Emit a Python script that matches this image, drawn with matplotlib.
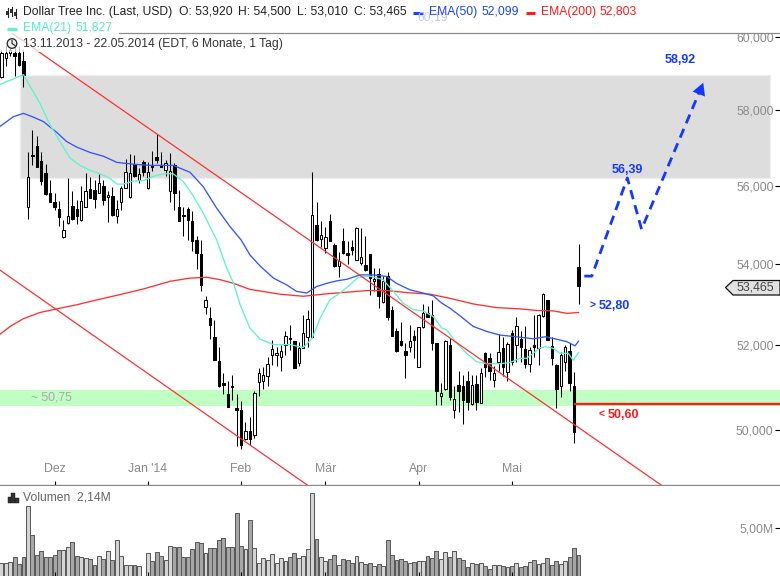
import matplotlib
matplotlib.use("Agg")
import matplotlib.pyplot as plt
import matplotlib.ticker as mticker
from matplotlib.patches import Circle, Polygon, Rectangle

plt.rcParams["font.family"] = ["Liberation Sans", "DejaVu Sans"]

# ── Kursdaten ────────────────────────────────────────────────────────────────
opens = [
    58.90, 59.42, 59.55, 59.55, 59.55, 59.34, 55.45, 56.81, 57.03, 56.65,
    56.34, 55.82, 55.59, 55.40, 54.67, 55.04, 55.48, 55.40, 55.11, 55.46,
    55.91, 55.89, 55.82, 55.99, 55.70, 55.72, 55.21, 55.59, 55.95, 55.70,
    56.57, 56.15, 56.61, 55.93, 56.53, 56.74, 56.55, 56.41, 55.87, 56.53,
    55.45, 55.25, 55.40, 55.10, 54.61, 54.26, 52.93, 52.66, 52.20, 51.63,
    51.09, 50.83, 51.04, 50.51, 50.47, 49.79, 49.97, 49.88, 51.12, 51.16,
    51.26, 51.76, 51.76, 51.73, 52.00, 52.17, 52.10, 51.57, 51.95, 52.21,
    52.20, 54.99, 54.64, 54.40, 55.08, 54.49, 53.96, 54.57, 54.27, 54.44,
    54.09, 54.03, 53.98, 54.26, 53.58, 53.75, 53.07, 53.69, 52.87, 52.35,
    52.11, 51.87, 51.97, 52.23, 51.48, 52.44, 52.80, 52.73, 52.05, 50.79,
    50.95, 52.01, 50.46, 51.06, 51.04, 51.16, 50.61, 51.08, 50.63, 51.81,
    51.69, 51.17, 51.59, 51.93, 51.36, 52.30, 52.01, 52.15, 51.91, 51.55,
    52.01, 51.93, 52.72, 53.11, 51.99, 51.54, 51.02, 51.60, 51.87, 51.02,
    53.92,
]
highs = [
    59.64, 59.78, 59.78, 59.87, 59.74, 59.64, 56.87, 57.47, 57.31, 56.87,
    56.57, 56.15, 55.82, 55.61, 55.12, 56.21, 55.85, 55.63, 56.00, 56.34,
    56.22, 56.15, 56.30, 56.15, 55.85, 55.97, 55.63, 55.99, 56.70, 56.84,
    56.79, 56.46, 56.68, 56.61, 56.90, 57.37, 56.87, 56.68, 56.85, 56.59,
    55.89, 55.46, 55.45, 55.34, 54.71, 54.61, 53.21, 52.93, 52.62, 51.97,
    51.34, 51.16, 51.30, 50.83, 50.67, 50.18, 50.30, 50.91, 51.46, 51.48,
    51.73, 52.13, 51.97, 52.01, 52.35, 52.50, 52.10, 52.09, 52.74, 52.87,
    56.35, 55.58, 55.10, 54.94, 55.28, 54.53, 54.31, 54.91, 54.57, 54.61,
    54.94, 54.91, 54.71, 54.26, 53.89, 53.89, 53.69, 53.81, 52.97, 52.42,
    52.57, 52.05, 52.50, 52.38, 52.44, 53.01, 52.95, 53.11, 52.05, 51.10,
    52.13, 52.19, 51.04, 51.38, 51.30, 51.39, 51.28, 51.30, 51.46, 51.83,
    51.81, 51.50, 52.27, 52.21, 52.09, 52.38, 52.69, 52.36, 52.46, 51.97,
    52.74, 52.77, 53.28, 53.11, 52.21, 51.56, 51.85, 52.01, 52.05, 51.36,
    54.50,
]
lows = [
    58.87, 59.19, 59.46, 58.93, 59.21, 58.61, 55.14, 56.53, 56.50, 56.02,
    55.76, 55.57, 55.36, 54.95, 54.65, 55.02, 55.12, 55.02, 55.09, 55.45,
    55.68, 55.42, 55.80, 55.51, 55.06, 55.23, 55.04, 55.36, 55.93, 55.68,
    56.22, 56.08, 56.24, 55.91, 56.37, 56.59, 56.48, 56.24, 55.59, 55.36,
    55.08, 54.72, 54.61, 54.32, 53.87, 53.32, 52.77, 52.16, 51.64, 51.00,
    50.85, 50.53, 50.71, 49.63, 49.56, 49.77, 49.65, 49.82, 50.79, 50.95,
    51.02, 51.54, 51.51, 51.38, 51.77, 51.89, 51.47, 51.50, 51.93, 51.97,
    52.20, 54.57, 54.44, 54.27, 54.57, 53.93, 53.67, 54.26, 53.99, 54.23,
    54.09, 53.98, 53.83, 53.24, 53.32, 52.91, 53.03, 52.61, 52.24, 51.83,
    51.98, 51.22, 51.85, 51.69, 51.48, 52.43, 52.70, 51.89, 50.58, 50.59,
    50.93, 50.71, 50.29, 50.43, 50.13, 50.47, 50.59, 50.47, 50.63, 51.24,
    51.17, 51.00, 51.38, 51.26, 51.14, 51.54, 51.61, 51.61, 51.46, 51.36,
    51.73, 51.54, 52.70, 52.13, 51.54, 50.51, 50.77, 51.38, 50.91, 49.69,
    53.01,
]
closes = [
    59.55, 59.55, 59.64, 59.46, 59.23, 58.96, 56.22, 56.77, 56.50, 56.13,
    55.78, 55.59, 55.45, 55.19, 54.87, 55.23, 55.14, 55.23, 55.61, 55.86,
    55.69, 55.66, 56.08, 55.63, 55.76, 55.25, 55.40, 55.95, 56.36, 56.33,
    56.24, 56.31, 56.36, 56.36, 56.50, 56.68, 56.50, 56.59, 56.37, 55.82,
    55.08, 55.21, 55.12, 54.57, 54.27, 53.48, 53.11, 52.50, 51.64, 51.02,
    51.06, 50.53, 51.00, 50.47, 49.66, 49.97, 49.78, 50.87, 51.34, 51.30,
    51.55, 51.91, 51.81, 51.87, 52.24, 52.15, 51.47, 51.94, 52.30, 52.64,
    55.25, 54.60, 54.74, 54.68, 54.57, 53.96, 54.08, 54.29, 54.24, 54.36,
    54.91, 54.17, 53.85, 53.65, 53.63, 53.21, 53.57, 52.70, 52.24, 51.87,
    52.00, 51.77, 52.11, 52.13, 52.44, 52.79, 52.70, 52.07, 50.91, 50.87,
    52.11, 50.76, 50.72, 50.91, 50.69, 50.65, 51.05, 50.65, 51.34, 51.48,
    51.38, 51.34, 51.85, 51.48, 52.03, 51.61, 52.46, 51.97, 51.55, 51.89,
    51.97, 52.74, 53.26, 52.13, 51.69, 50.97, 51.77, 51.97, 51.09, 49.96,
    53.465,
]
volumes = [
    1.32, 1.32, 1.46, 1.94, 1.21, 1.94, 7.29, 4.23, 2.15, 2.57,
    1.94, 1.94, 2.15, 2.67, 2.67, 2.98, 3.50, 2.05, 1.94, 1.84,
    1.74, 1.11, 2.05, 1.74, 2.57, 1.63, 3.71, 2.05, 1.11, 1.11,
    1.11, 1.01, 0.00, 2.36, 1.53, 2.46, 2.05, 1.63, 3.09, 2.98,
    2.98, 1.94, 1.94, 2.78, 3.50, 3.40, 2.36, 2.88, 2.88, 3.71,
    3.92, 2.98, 2.98, 6.52, 3.09, 2.78, 5.79, 2.88, 1.32, 1.84,
    1.63, 2.26, 1.32, 1.84, 1.53, 1.94, 2.36, 1.84, 2.05, 2.78,
    8.61, 3.82, 1.94, 1.53, 1.74, 2.15, 1.11, 1.74, 1.63, 1.32,
    2.05, 1.42, 1.21, 1.32, 1.01, 1.21, 1.01, 3.71, 2.15, 1.63,
    1.74, 1.53, 1.32, 1.42, 1.53, 1.53, 2.05, 1.84, 2.57, 1.74,
    2.46, 1.94, 2.57, 1.84, 1.63, 0.90, 1.32, 1.21, 1.32, 1.01,
    0.69, 1.11, 1.11, 1.01, 0.90, 1.01, 1.32, 0.90, 1.01, 1.42,
    1.63, 1.21, 1.32, 1.84, 1.11, 1.53, 1.21, 1.53, 1.94, 2.88,
    2.15,
]

# ── Gleitende Durchschnitte ──────────────────────────────────────────────────
ema21_x = [-0.3, 5, 6.5, 8.7, 11, 13.2, 15.5, 17.7, 20, 22.2, 24.5, 26, 27.5, 29.7, 32,
           34.2, 36.5, 38.7, 41, 43.3, 45.5, 48.5, 50.8, 52.3, 53.8, 56, 58.3, 61.3,
           65, 68, 70, 71.8, 74, 76.3, 78.5, 80.4, 83, 86, 88.3, 90.5, 92.8, 95, 97.3,
           99.2, 100.3, 102.6, 104.8, 107, 109.3, 112.3, 114.6, 116.8, 118.3, 119.8,
           121.3, 122.8, 124.3, 125.8, 127.7, 128.8, 130]
ema21_y = [58.69, 58.96, 58.64, 58.18, 57.60, 57.16, 56.72, 56.53, 56.40, 56.31, 56.19,
           56.04, 56.04, 56.12, 56.13, 56.24, 56.31, 56.31, 56.11, 55.72, 55.29, 54.61,
           53.89, 53.52, 52.99, 52.42, 52.15, 52.02, 52.02, 51.95, 52.17, 52.66, 53.11,
           53.28, 53.48, 53.67, 53.70, 53.61, 53.32, 53.03, 52.87, 52.84, 52.70, 52.42,
           52.38, 52.05, 51.81, 51.61, 51.56, 51.56, 51.59, 51.69, 51.69, 51.81, 51.94,
           51.97, 51.93, 51.81, 51.81, 51.64, 51.83]
ema50_x = [-0.3, 2.7, 5, 7.2, 9.5, 12.5, 14.7, 17, 20, 23, 26, 29.7, 33.5, 38.7, 42.5,
           45.5, 48.5, 51.5, 54, 56, 58.3, 61.3, 64.3, 66.5, 68.8, 71, 73.3, 75.5, 77.8,
           80.8, 83.8, 86.8, 89, 92, 95, 97.3, 99.2, 101, 103.3, 106.3, 109.3, 112.3,
           116.8, 119.8, 122.5, 125.1, 127.4, 129.2, 130]
ema50_y = [57.56, 57.82, 57.91, 57.81, 57.69, 57.40, 57.16, 57.01, 56.87, 56.77, 56.61,
           56.56, 56.53, 56.53, 56.35, 55.97, 55.42, 54.95, 54.61, 54.23, 53.95, 53.65,
           53.48, 53.32, 53.28, 53.44, 53.52, 53.58, 53.62, 53.73, 53.73, 53.69, 53.52,
           53.36, 53.28, 53.21, 53.03, 52.91, 52.72, 52.46, 52.34, 52.25, 52.20, 52.16,
           52.21, 52.15, 52.09, 51.99, 52.10]
ema200_x = [-0.3, 2, 5, 8.7, 12.5, 17, 21.5, 26.7, 32, 38, 42.5, 46.3, 49.3, 52.3, 56,
            58.3, 62.8, 68, 73.3, 77.8, 82.3, 86.8, 91.3, 96.6, 101, 106.3, 111.6,
            116.8, 120.6, 124.3, 127.4, 130]
ema200_y = [52.27, 52.46, 52.65, 52.80, 52.89, 52.99, 53.11, 53.24, 53.38, 53.57, 53.65,
            53.67, 53.61, 53.52, 53.37, 53.33, 53.25, 53.20, 53.26, 53.30, 53.34, 53.34,
            53.29, 53.25, 53.15, 53.01, 52.92, 52.89, 52.85, 52.84, 52.78, 52.80]

# ── Trendlinien, Zonen, Prognose ─────────────────────────────────────────────
trend_upper_x = [-0.3, 148.6]
trend_upper_y = [60.34, 48.74]
trend_lower_x = [-0.3, 68.9]
trend_lower_y = [53.85, 48.74]
resistance_zone = (56.20, 58.95)
support_zone = (50.55, 50.93)
stop_level = 50.60
forecast_x = [131.3, 133, 141, 144.2, 158.1]
forecast_y = [53.70, 53.70, 56.20, 54.88, 58.74]

month_pos = [12, 33, 54, 73, 94, 115]
month_labels = ["Dez", "Jan '14", "Feb", "Mär", "Apr", "Mai"]
price_ticks = [50, 52, 54, 56, 58, 60]
price_labels = ["50,000", "52,000", "54,000", "56,000", "58,000", "60,000"]

GRAU = "#8a8a8a"
BLAU = "#1438ff"
ROT = "#ff1a1a"
CYAN = "#5cf5cc"
XLIM = (-0.29, 175.38)

# ── Figur ────────────────────────────────────────────────────────────────────
fig = plt.figure(figsize=(7.8, 5.76), dpi=100)
ax = fig.add_axes([0, 1 - 485 / 576, 1, (485 - 33) / 576])
ax_vol = fig.add_axes([0, 0, 1, 90 / 576])
hd = fig.add_axes([0, 0, 1, 1], zorder=10)
hd.set_xlim(0, 780)
hd.set_ylim(576, 0)
hd.axis("off")

# Preisfeld
ax.set_yscale("log")
ax.set_xlim(*XLIM)
ax.set_ylim(48.74, 60.11)

ax.axhspan(*resistance_zone, xmin=(4.2 - XLIM[0]) / (XLIM[1] - XLIM[0]),
           xmax=(173.1 - XLIM[0]) / (XLIM[1] - XLIM[0]),
           facecolor="#dddddd", edgecolor="#eeeeee", linewidth=1, zorder=1)
ax.axhspan(*support_zone, facecolor="#c0ffc4", edgecolor="none", zorder=1)

for i in range(len(opens)):
    oben = max(opens[i], closes[i])
    unten = min(opens[i], closes[i])
    farbe = "white" if closes[i] > opens[i] else "black"
    ax.plot([i, i], [lows[i], highs[i]], color="black", linewidth=0.75, zorder=3,
            solid_capstyle="butt")
    ax.bar(i, oben - unten, bottom=unten, width=0.55, color=farbe, edgecolor="black",
           linewidth=0.75, zorder=3)

ax.plot(ema200_x, ema200_y, color="#ff3030", linewidth=0.95, zorder=4)
ax.plot(ema50_x, ema50_y, color="#3355ff", linewidth=0.95, zorder=4)
ax.plot(ema21_x, ema21_y, color=CYAN, linewidth=0.95, zorder=4)
ax.plot(trend_upper_x, trend_upper_y, color="#ff3030", linewidth=0.9, zorder=5)
ax.plot(trend_lower_x, trend_lower_y, color="#ff3030", linewidth=0.9, zorder=5)
ax.plot([129.2, XLIM[1]], [stop_level, stop_level], color=ROT, linewidth=1.7, zorder=5)

ax.plot(forecast_x, forecast_y, color=BLAU, linewidth=2.0, linestyle=(0, (3.4, 2.2)), zorder=6)
ax.annotate("", xy=(forecast_x[-1], forecast_y[-1]), xytext=(156.2, 58.16),
            arrowprops=dict(arrowstyle="-|>,head_length=0.55,head_width=0.3",
                            color=BLAU, linewidth=0, mutation_scale=16,
                            shrinkA=0, shrinkB=0), zorder=7)

ax.text(6.6, 50.75, "~ 50,75", color="#a8a8a8", fontsize=8.8, va="center", zorder=2)
ax.text(149.3, 59.35, "58,92", color=BLAU, fontsize=9, fontweight="bold", va="center", ha="left")
ax.text(137.5, 56.42, "56,39", color=BLAU, fontsize=9, fontweight="bold", va="center", ha="left")
ax.text(132.6, 52.96, ">", color=BLAU, fontsize=7.5, fontweight="bold", va="center", ha="left")
ax.text(134.6, 52.96, "52,80", color=BLAU, fontsize=9, fontweight="bold", va="center", ha="left")
ax.text(134.6, 50.36, "<", color=ROT, fontsize=7.5, fontweight="bold", va="center", ha="left")
ax.text(136.6, 50.36, "50,60", color=ROT, fontsize=9, fontweight="bold", va="center", ha="left")

ax.yaxis.tick_right()
ax.yaxis.set_major_locator(mticker.FixedLocator(price_ticks))
ax.yaxis.set_major_formatter(mticker.FixedFormatter(price_labels))
ax.yaxis.set_minor_locator(mticker.NullLocator())
ax.tick_params(axis="y", direction="in", length=3.6, width=0.8, colors="black",
               labelcolor=GRAU, labelsize=8.8, pad=-4.6)
for lab in ax.get_yticklabels():
    lab.set_ha("right")
ax.set_xticks(month_pos)
ax.set_xticklabels(month_labels)
ax.tick_params(axis="x", direction="in", length=2.6, width=0.8, colors="black",
               labelcolor=GRAU, labelsize=8.8, pad=-16)
for s in ["left", "right", "top"]:
    ax.spines[s].set_visible(False)
ax.spines["bottom"].set_color(GRAU)
ax.spines["bottom"].set_linewidth(1)

# Volumen
ups = [c > o for o, c in zip(opens, closes)]
vol_farben = ["#d4d4d4" if u else "#a6a6a6" for u in ups]
ax_vol.bar(range(len(volumes)), volumes, width=0.88, color=vol_farben,
           edgecolor="#5a5a5a", linewidth=0.72)
ax_vol.set_xlim(*XLIM)
ax_vol.set_ylim(0, 9.36)
ax_vol.yaxis.tick_right()
ax_vol.set_yticks([5])
ax_vol.set_yticklabels(["5,00M"])
ax_vol.tick_params(axis="y", direction="in", length=3.6, width=0.8, colors="black",
                   labelcolor=GRAU, labelsize=8.8, pad=-4.6)
for lab in ax_vol.get_yticklabels():
    lab.set_ha("right")
ax_vol.set_xticks(month_pos)
ax_vol.set_xticklabels([])
ax_vol.tick_params(axis="x", direction="in", length=2.6, width=0.8, colors="black")
for s in ax_vol.spines.values():
    s.set_visible(False)

# ── Kopfzeilen und Symbole (Pixelkoordinaten) ────────────────────────────────
hd.add_patch(Rectangle((0, 33), 285, 19, facecolor="white", alpha=0.72, edgecolor="none"))
hd.plot([119, 780], [32.5, 32.5], color=GRAU, linewidth=0.9)

FS = 8.75
hd.text(417, 18, "60,19", color="#bcc8ff", fontsize=FS, va="center")
for x, txt in [(23, "Dollar Tree Inc. (Last, USD)"), (179, "O: 53,920"), (238, "H: 54,500"),
               (297, "L: 53,010"), (354.5, "C: 53,465")]:
    hd.text(x, 11.5, txt, color="#222222", fontsize=FS, va="center")
for x, txt in [(429, "EMA(50)"), (481, "52,099")]:
    hd.text(x, 11.5, txt, color="#1a44ff", fontsize=FS, va="center")
for x, txt in [(541, "EMA(200)"), (600, "52,803")]:
    hd.text(x, 11.5, txt, color=ROT, fontsize=FS, va="center")
for x, txt in [(23, "EMA(21)"), (75, "51,827")]:
    hd.text(x, 27.5, txt, color="#4feec4", fontsize=FS, va="center")
hd.text(23, 43.5, "13.11.2013 - 22.05.2014 (EDT, 6 Monate, 1 Tag)", color="#333333",
        fontsize=FS, va="center")
hd.plot([413, 423], [13, 13], color="#1a44ff", linewidth=2.2, solid_capstyle="butt")
hd.plot([525.5, 534.5], [13, 13], color=ROT, linewidth=2.2, solid_capstyle="butt")
hd.plot([7, 17], [29, 29], color=CYAN, linewidth=2.2, solid_capstyle="butt")

# Kerzensymbol
for x, y0, y1, b0, b1 in [(7.5, 8, 17, 11, 15), (11.5, 7, 16, 9, 13), (15.5, 9, 18, 12, 16)]:
    hd.plot([x, x], [y0, y1], color="#222222", linewidth=0.8)
    hd.add_patch(Rectangle((x - 1.2, b0), 2.4, b1 - b0, facecolor="#333333", edgecolor="none"))
# Uhr
hd.add_patch(Circle((12, 43.5), 4.8, facecolor="#eeeeee", edgecolor="#222222", linewidth=0.9))
hd.plot([12, 12, 15], [40.5, 43.5, 45.5], color="#222222", linewidth=0.8)
# Volumensymbol
for x, y0, w in [(8, 497, 3.2), (11.2, 493, 3.6), (14.8, 498, 4)]:
    hd.add_patch(Rectangle((x, y0), w, 502.5 - y0, facecolor="#333333", edgecolor="#111111",
                           linewidth=0.3))
hd.text(23, 497, "Volumen  2,14M", color="#666666", fontsize=FS, va="center",
        bbox=dict(facecolor="white", alpha=0.55, edgecolor="none", pad=1))

# Kursmarke rechts
hd.add_patch(Polygon([(725.5, 287.5), (733, 280.5), (780, 280.5), (780, 295), (733, 295)],
                     closed=True, facecolor="#e2e2e2", edgecolor="#111111", linewidth=0.9))
hd.text(774, 287.5, "53,465", color="#444444", fontsize=8.9, va="center", ha="right")

fig.savefig("out.png", dpi=100)
